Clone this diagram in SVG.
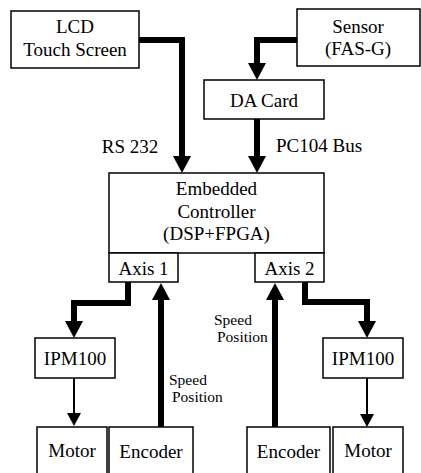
<svg xmlns="http://www.w3.org/2000/svg" width="421" height="473" viewBox="0 0 421 473">
<style>
.box{fill:#fff;stroke:#000;stroke-width:1.5}
.t{font-family:'Liberation Serif','Times New Roman',serif;font-size:19px;fill:#000;text-anchor:middle}
.s{font-family:'Liberation Serif','Times New Roman',serif;font-size:15.5px;fill:#000}
.thick{fill:none;stroke:#000;stroke-width:6;stroke-linejoin:miter}
.thin{fill:none;stroke:#000;stroke-width:2}
</style>
<defs>
<marker id="ah" markerUnits="userSpaceOnUse" markerWidth="17" markerHeight="18" refX="0" refY="9" orient="auto" overflow="visible">
<path d="M0,0 L17,9 L0,18 z" fill="#000"/>
</marker>
<marker id="ahs" markerUnits="userSpaceOnUse" markerWidth="13" markerHeight="14" refX="0" refY="7" orient="auto" overflow="visible">
<path d="M0,0 L13,7 L0,14 z" fill="#000"/>
</marker>
</defs>
<rect width="421" height="473" fill="#fff"/>
<g id="connectors">
<polyline class="thick" points="139,40 182,40 182,156" marker-end="url(#ah)"/>
<polyline class="thick" points="297,40 257,40 257,63" marker-end="url(#ah)"/>
<polyline class="thick" points="257,119 257,156" marker-end="url(#ah)"/>
<polyline class="thick" points="128,282 128,303 74,303 74,321" marker-end="url(#ah)"/>
<polyline class="thick" points="305,282 305,302 367,302 367,321" marker-end="url(#ah)"/>
<polyline class="thick" points="161,427 161,300" marker-end="url(#ah)"/>
<polyline class="thick" points="275,427 275,300" marker-end="url(#ah)"/>
<line class="thin" x1="74" y1="378" x2="74" y2="413" marker-end="url(#ahs)"/>
<line class="thin" x1="367" y1="378" x2="367" y2="414" marker-end="url(#ahs)"/>
<text class="t" x="130" y="153">RS 232</text>
<text class="t" x="319" y="152">PC104 Bus</text>
<text class="s" x="169" y="385">Speed</text>
<text class="s" x="172" y="402">Position</text>
<text class="s" x="214" y="325">Speed</text>
<text class="s" x="217" y="342">Position</text>
</g>
<g id="lcd">
<rect class="box" x="11" y="11" width="128" height="57"/>
<text class="t" x="75" y="33">LCD</text>
<text class="t" x="75" y="56">Touch Screen</text>
</g>
<g id="sensor">
<rect class="box" x="297" y="9" width="123" height="57"/>
<text class="t" x="358" y="33">Sensor</text>
<text class="t" x="358" y="55">(FAS-G)</text>
</g>
<g id="dacard">
<rect class="box" x="204" y="80" width="120" height="39"/>
<text class="t" x="264" y="107">DA Card</text>
</g>
<g id="controller">
<rect class="box" x="109" y="173" width="215" height="80"/>
<text class="t" x="216.5" y="195">Embedded</text>
<text class="t" x="216.5" y="218">Controller</text>
<text class="t" x="216.5" y="240">(DSP+FPGA)</text>
</g>
<g id="axis1">
<rect class="box" x="109" y="253" width="69" height="29"/>
<text class="t" x="143.5" y="275">Axis 1</text>
</g>
<g id="axis2">
<rect class="box" x="255" y="253" width="69" height="29"/>
<text class="t" x="289.5" y="275">Axis 2</text>
</g>
<g id="ipm1">
<rect class="box" x="35" y="338" width="80" height="40"/>
<text class="t" x="75" y="365">IPM100</text>
</g>
<g id="ipm2">
<rect class="box" x="323" y="338" width="80" height="40"/>
<text class="t" x="363" y="365">IPM100</text>
</g>
<g id="motor1">
<rect class="box" x="37" y="427" width="70" height="50"/>
<text class="t" x="72" y="457">Motor</text>
</g>
<g id="encoder1">
<rect class="box" x="109" y="427" width="84" height="50"/>
<text class="t" x="151" y="458">Encoder</text>
</g>
<g id="encoder2">
<rect class="box" x="247" y="427" width="83" height="50"/>
<text class="t" x="288.5" y="458">Encoder</text>
</g>
<g id="motor2">
<rect class="box" x="333" y="427" width="70" height="50"/>
<text class="t" x="368" y="457">Motor</text>
</g>
</svg>
